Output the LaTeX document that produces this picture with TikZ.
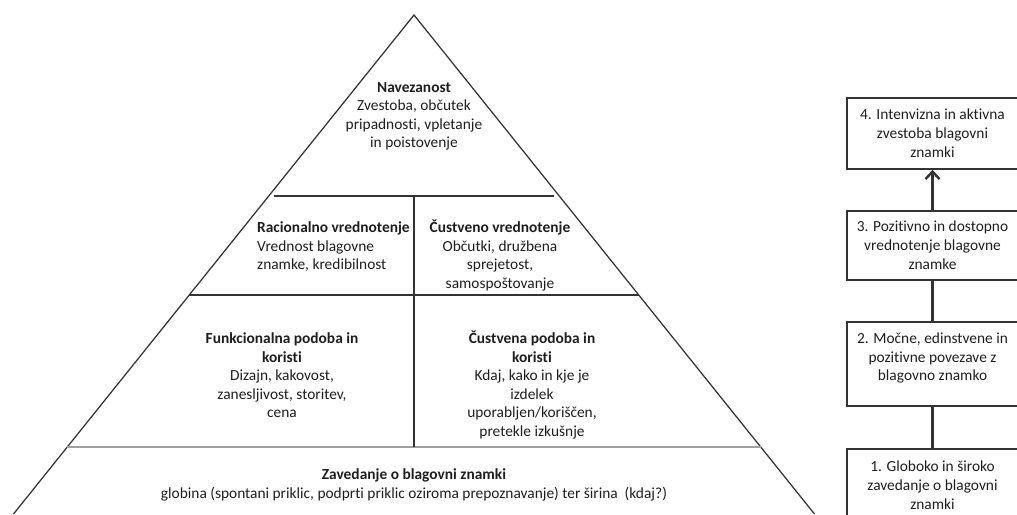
\documentclass[tikz,border=0pt]{standalone}
\usepackage{fontspec}
\setmainfont{Carlito}[Ligatures={NoCommon}]
\usetikzlibrary{arrows.meta,calc}
\definecolor{linegray}{HTML}{333333}
\definecolor{inkgray}{HTML}{1E1E1E}
\tikzset{
  pyrline/.style={draw=linegray, line width=1.25pt},
  pyrtext/.style={align=center, inner sep=0pt, text=inkgray, font=\fontsize{15.4}{18.5}\selectfont},
  stepbox/.style={draw=linegray, line width=1.6pt, minimum width=171pt, minimum height=71pt, align=center, inner sep=0pt, text=inkgray, font=\fontsize{15.4}{18.8}\selectfont},
  steplink/.style={draw=linegray, line width=2.2pt},
  steparrow/.style={steplink, -{Straight Barb[length=7.5pt,width=14pt,line width=2.4pt]}}
}
\begin{document}
\begin{tikzpicture}[x=1pt, y=-1pt]
  \useasboundingbox (0,0) rectangle (1017,514);
  \clip (0,0) rectangle (1017,514);
  % pyramid outline and layers
  \coordinate (apex) at (414,15);
  \draw[pyrline] (13.5,514) -- (apex) -- (814.5,514);
  \draw[pyrline] (274,196) -- (554,196);
  \draw[pyrline] (189.3,295) -- (638.7,295);
  \draw[pyrline, draw=gray!75, line width=1.9pt] (67.3,447) -- (760.7,447);
  \draw[pyrline] (414,196) -- (414,447);

  \node[pyrtext, anchor=north] (bond) at (414,82) {\textbf{Navezanost}\\Zvestoba, občutek\\pripadnosti, vpletanje\\in poistovenje};
  \node[pyrtext, align=left, anchor=north west] (ratio) at (257,221.5) {\textbf{Racionalno vrednotenje}\\Vrednost blagovne\\znamke, kredibilnost};
  \node[pyrtext, anchor=north] (feel) at (500,220) {\textbf{Čustveno vrednotenje}\\Občutki, družbena\\sprejetost,\\samospoštovanje};
  \node[pyrtext, anchor=north] (func) at (282,332.5) {\textbf{Funkcionalna podoba in}\\\textbf{koristi}\\Dizajn, kakovost,\\zanesljivost, storitev,\\cena};
  \node[pyrtext, anchor=north] (emot) at (532,330.7) {\textbf{Čustvena podoba in}\\\textbf{koristi}\\Kdaj, kako in kje je\\izdelek\\uporabljen/koriščen,\\pretekle izkušnje};
  \node[pyrtext, anchor=north] (aware) at (414,468.5) {\textbf{Zavedanje o blagovni znamki}\\globina (spontani priklic, podprti priklic oziroma prepoznavanje) ter širina\ \ (kdaj?)};

  % steps on the right
  \node[stepbox] (s4) at (932.5,133.5) {4. Intenvizna in aktivna\\zvestoba blagovni\\znamki};
  \node[stepbox, minimum height=69pt] (s3) at (932.5,245.5) {3. Pozitivno in dostopno\\vrednotenje blagovne\\znamke};
  \node[stepbox, minimum height=84pt] (s2) at (932.5,364) {};
  \node[stepbox, draw=none, minimum height=0pt, minimum width=0pt] at ([yshift=6pt]s2.center) {2. Močne, edinstvene in\\pozitivne povezave z\\blagovno znamko};
  \node[stepbox, minimum height=72pt] (s1) at (932.5,485) {1. Globoko in široko\\zavedanje o blagovni\\znamki};

  \draw[steparrow] (s3) -- (s4);
  \draw[steplink] (s2) -- (s3);
  \draw[steplink] (s1) -- (s2);
\end{tikzpicture}
\end{document}
